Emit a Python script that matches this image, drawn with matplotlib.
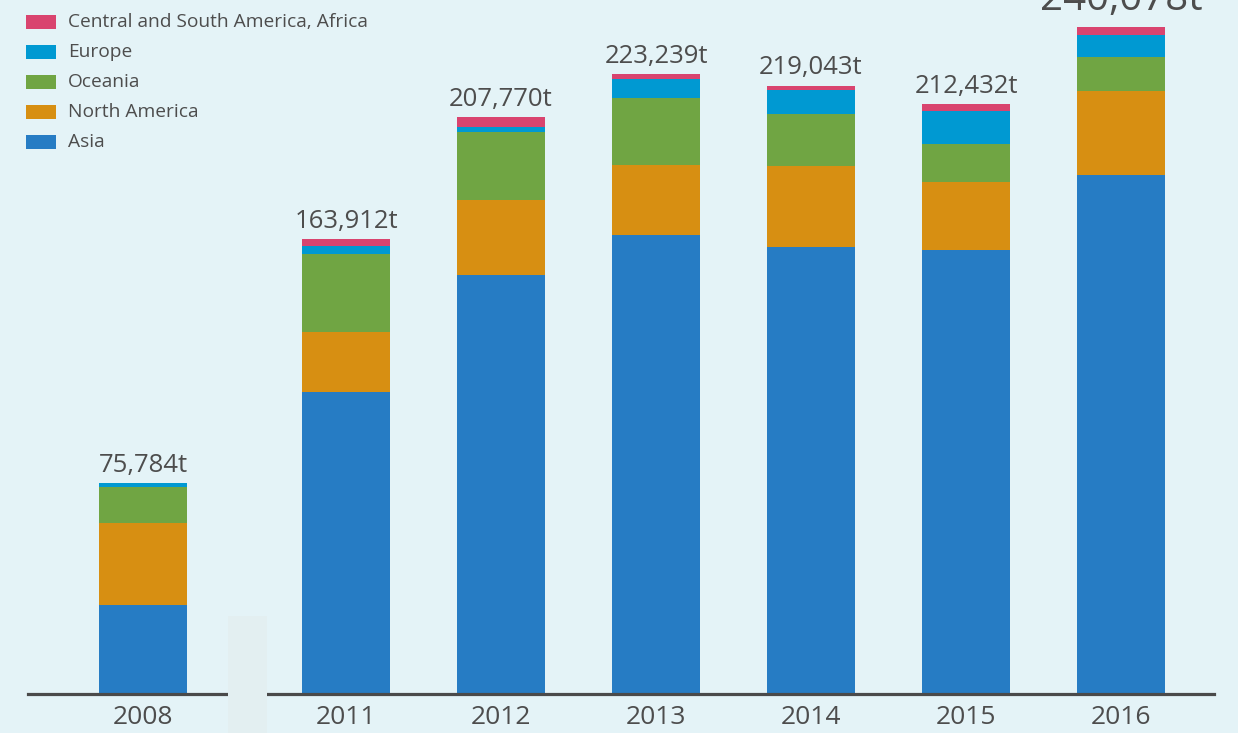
import matplotlib
matplotlib.use('Agg')
import matplotlib.pyplot as plt
from matplotlib.patches import Rectangle

plt.rcParams['font.family'] = ['Open Sans', 'DejaVu Sans']

# data (tonnes)
years = ['2008', '2011', '2012', '2013', '2014', '2015', '2016']
asia = [32060, 108677, 150821, 165176, 160848, 159775, 186807]
north_america = [29620, 21520, 26913, 25245, 29278, 24525, 30235]
oceania = [13000, 28335, 24653, 24163, 18796, 13705, 12238]
europe = [1104, 2618, 1902, 6852, 8675, 11902, 7919]
csa_africa = [0, 2762, 3481, 1803, 1446, 2525, 2879]
totals = ['75,784t', '163,912t', '207,770t', '223,239t', '219,043t', '212,432t', '240,078t']

series = [
    ('Asia', asia, '#267cc4'),
    ('North America', north_america, '#d78f12'),
    ('Oceania', oceania, '#70a543'),
    ('Europe', europe, '#0099d2'),
    ('Central and South America, Africa', csa_africa, '#d9446f'),
]

BG = '#e4f3f7'
TXT = '#4d4d4d'
W, H = 1238, 733

fig = plt.figure(figsize=(W / 100, H / 100), dpi=100, facecolor=BG)
# axes box in pixels: x 28..1214, baseline at y=694
ax = fig.add_axes([28 / W, (H - 694) / H, (1214 - 28) / W, 694 / H])
ax.set_facecolor(BG)

# 2008 sits further left (axis break between 2008 and 2011)
xpos = [0.0] + [1.31 + i for i in range(len(years) - 1)]
bar_w = 0.568

bottom = [0] * len(years)
for name, vals, col in series:
    ax.bar(xpos, vals, bar_w, bottom=bottom, color=col, linewidth=0, zorder=2)
    bottom = [b + v for b, v in zip(bottom, vals)]

for i, (x, top, lab) in enumerate(zip(xpos, bottom, totals)):
    if i == len(years) - 1:
        # the last label is larger and runs off the top edge, as in the original
        ax.annotate(lab, (x, top), xytext=(0, 12.5), textcoords='offset points',
                    ha='center', va='baseline', fontsize=29, color=TXT,
                    annotation_clip=False)
    else:
        ax.annotate(lab, (x, top), xytext=(0, 8), textcoords='offset points',
                    ha='center', va='baseline', fontsize=18.5, color=TXT)

ax.set_xlim(-0.742, 6.91)
ax.set_ylim(0, 694 * 360)
for s in ['top', 'left', 'right']:
    ax.spines[s].set_visible(False)
ax.spines['bottom'].set_color('#4a4a4a')
ax.spines['bottom'].set_linewidth(2.3)
ax.set_yticks([])
ax.set_xticks(xpos)
ax.set_xticklabels(years, fontsize=19, color=TXT)
ax.tick_params(axis='x', length=0, pad=8)

# axis break strip
fig.add_artist(Rectangle((228 / W, 0), 39 / W, (H - 616) / H, transform=fig.transFigure,
                         facecolor='#e3eff1', edgecolor='none', zorder=5))

# legend, top-left, drawn in reverse stacking order
for j, (name, vals, col) in enumerate(reversed(series)):
    cy = 22 + 30 * j
    fig.add_artist(Rectangle((26 / W, 1 - (cy + 7) / H), 30 / W, 14 / H,
                             transform=fig.transFigure, facecolor=col, edgecolor='none'))
    fig.text(68 / W, 1 - cy / H, name, fontsize=13.8, color=TXT, va='center', ha='left')

fig.savefig('out.png', dpi=100, facecolor=BG)
